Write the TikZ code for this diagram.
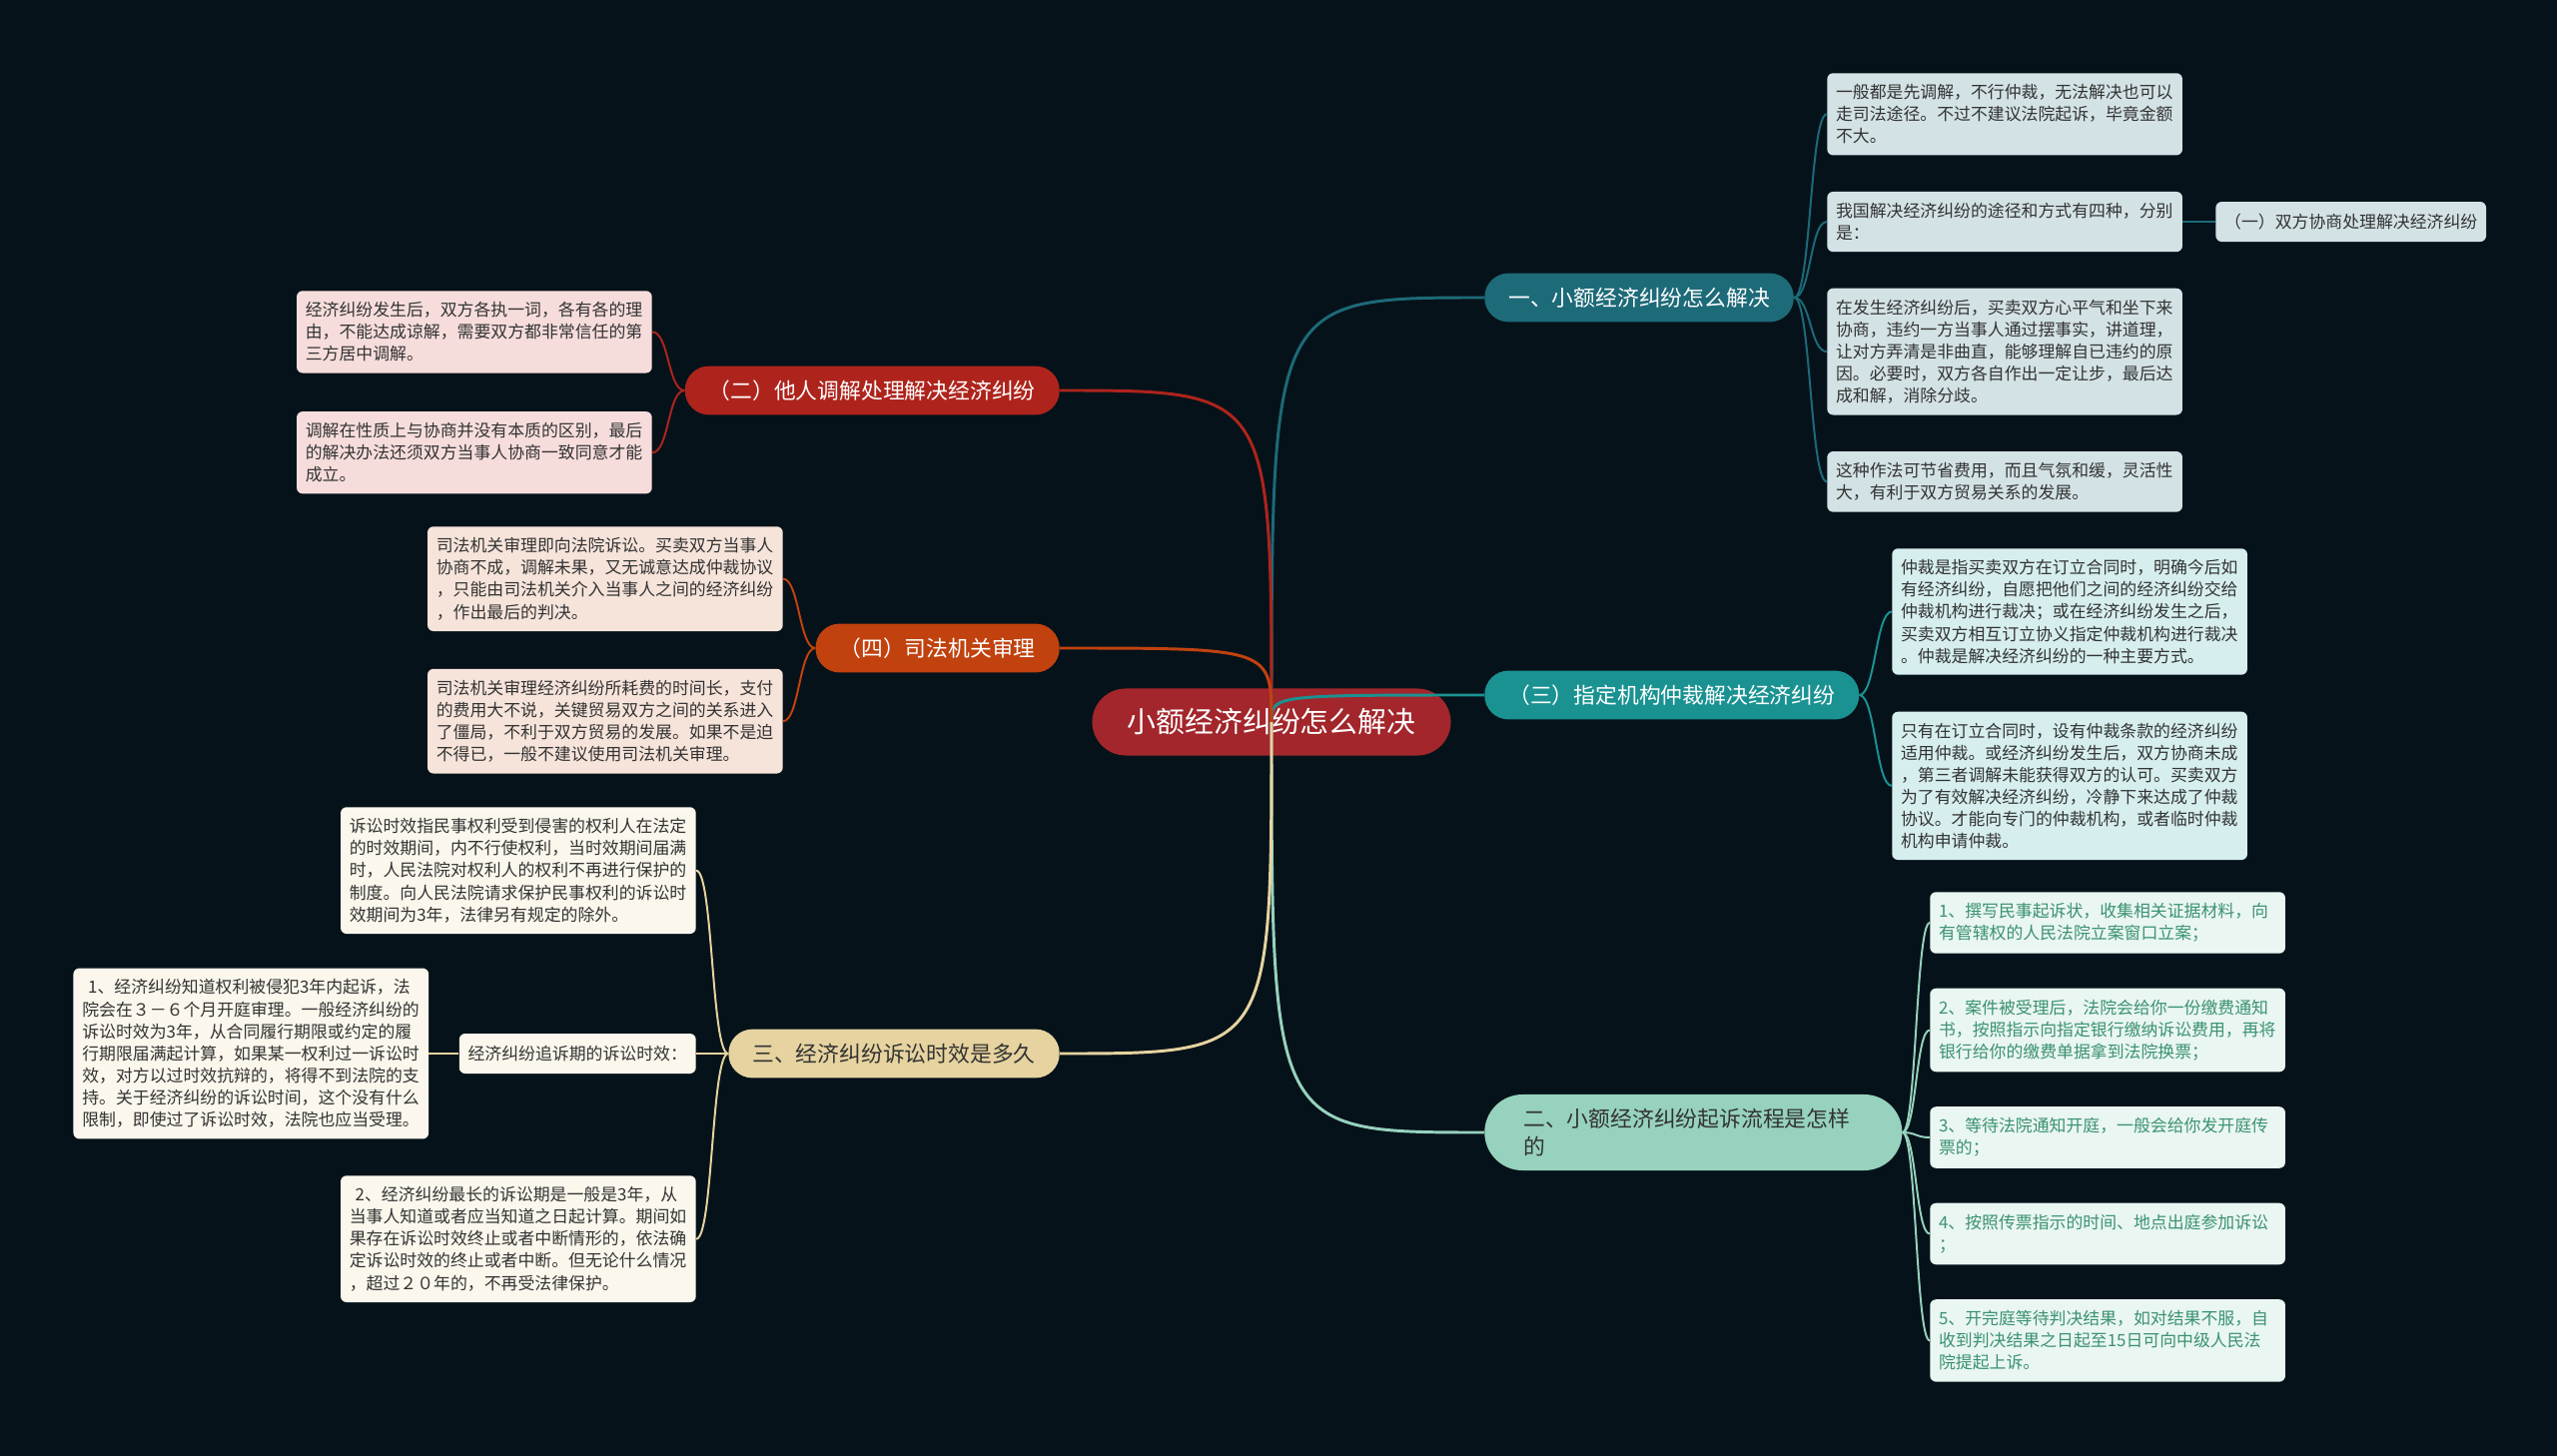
\documentclass[tikz,border=0pt]{standalone}
\usepackage{fontspec}
\setmainfont{Noto Sans CJK SC}
\usetikzlibrary{positioning}
\definecolor{mmbg}{HTML}{06121A}
\definecolor{mmroot}{HTML}{A2262B}
\definecolor{mmdeep}{HTML}{1D6A78}
\definecolor{mmteal}{HTML}{1A9292}
\definecolor{mmmint}{HTML}{96D2BD}
\definecolor{mmred}{HTML}{AE241C}
\definecolor{mmrust}{HTML}{C1420F}
\definecolor{mmsand}{HTML}{E6D39F}
\definecolor{mmink}{HTML}{333333}
\definecolor{mmgreen}{HTML}{3A9272}
\definecolor{fdeep}{HTML}{D3E2E5}
\definecolor{fteal}{HTML}{D6EEEE}
\definecolor{fmint}{HTML}{EAF6F1}
\definecolor{fred}{HTML}{F6DDDC}
\definecolor{frust}{HTML}{F6E4DA}
\definecolor{fsand}{HTML}{FBF7EC}
\newcommand\lffont{\fontsize{12pt}{15.7pt}\selectfont}
\newcommand\brfont{\fontsize{15.5pt}{20pt}\selectfont}
\newcommand\rtfont{\fontsize{20.5pt}{24pt}\selectfont}
\tikzset{
  branch/.style={rounded corners=0.6cm,minimum height=1.22cm,inner xsep=0.6cm,font=\brfont,text=white},
  leaf/.style={rounded corners=0.15cm,text width=8.45cm,inner xsep=0.22cm,inner ysep=0.28cm,align=left,font=\lffont,text=mmink},
  chip/.style={rounded corners=0.15cm,minimum height=1cm,inner xsep=0.22cm,font=\lffont,text=mmink},
  trunk/.style={line width=2.1pt},
  twig/.style={line width=1.4pt},
}
\begin{document}
\begin{tikzpicture}[x=0.025cm,y=-0.025cm]
  \fill[mmbg] (0,0) rectangle (2560,1458);
  \node[fill=mmroot,rounded corners=0.84cm,minimum width=8.975cm,minimum height=1.675cm,font=\rtfont,text=white] (root) at (1273,723) {小额经济纠纷怎么解决};
  % right side
  \node[branch,fill=mmdeep,anchor=west] (k1) at (1486,298) {一、小额经济纠纷怎么解决};
  \node[branch,fill=mmteal,anchor=west] (k2) at (1486,696) {（三）指定机构仲裁解决经济纠纷};
  \node[branch,fill=mmmint,text=mmink,anchor=west,align=left,text width=8.5cm,inner xsep=0.975cm,minimum height=1.9cm,rounded corners=0.95cm] (k3) at (1486,1134) {二、小额经济纠纷起诉流程是怎样\\的};
  % left side
  \node[branch,fill=mmred,anchor=east] (k4) at (1061,391) {（二）他人调解处理解决经济纠纷};
  \node[branch,fill=mmrust,anchor=east] (k5) at (1061,649) {（四）司法机关审理};
  \node[branch,fill=mmsand,text=mmink,anchor=east] (k6) at (1061,1055) {三、经济纠纷诉讼时效是多久};

  \node[leaf,fill=fdeep,anchor=north west] (k1a) at (1829,73) {一般都是先调解，不行仲裁，无法解决也可以\\走司法途径。不过不建议法院起诉，毕竟金额\\不大。};
  \node[leaf,fill=fdeep,below=0.9cm of k1a] (k1b) {我国解决经济纠纷的途径和方式有四种，分别\\是：};
  \node[leaf,fill=fdeep,below=0.9cm of k1b] (k1c) {在发生经济纠纷后，买卖双方心平气和坐下来\\协商，违约一方当事人通过摆事实，讲道理，\\让对方弄清是非曲直，能够理解自已违约的原\\因。必要时，双方各自作出一定让步，最后达\\成和解，消除分歧。};
  \node[leaf,fill=fdeep,below=0.9cm of k1c] (k1d) {这种作法可节省费用，而且气氛和缓，灵活性\\大，有利于双方贸易关系的发展。};
  \node[chip,fill=fdeep,right=0.82cm of k1b] (k1x) {（一）双方协商处理解决经济纠纷};

  \node[leaf,fill=fteal,anchor=north west] (k2a) at (1894,549) {仲裁是指买卖双方在订立合同时，明确今后如\\有经济纠纷，自愿把他们之间的经济纠纷交给\\仲裁机构进行裁决；或在经济纠纷发生之后，\\买卖双方相互订立协义指定仲裁机构进行裁决\\。仲裁是解决经济纠纷的一种主要方式。};
  \node[leaf,fill=fteal,below=0.91cm of k2a] (k2b) {只有在订立合同时，设有仲裁条款的经济纠纷\\适用仲裁。或经济纠纷发生后，双方协商未成\\，第三者调解未能获得双方的认可。买卖双方\\为了有效解决经济纠纷，冷静下来达成了仲裁\\协议。才能向专门的仲裁机构，或者临时仲裁\\机构申请仲裁。};

  \node[leaf,fill=fmint,text=mmgreen,anchor=north west] (k3a) at (1932,893) {1、撰写民事起诉状，收集相关证据材料，向\\有管辖权的人民法院立案窗口立案；};
  \node[leaf,fill=fmint,text=mmgreen,below=0.86cm of k3a] (k3b) {2、案件被受理后，法院会给你一份缴费通知\\书，按照指示向指定银行缴纳诉讼费用，再将\\银行给你的缴费单据拿到法院换票；};
  \node[leaf,fill=fmint,text=mmgreen,below=0.86cm of k3b] (k3c) {3、等待法院通知开庭，一般会给你发开庭传\\票的；};
  \node[leaf,fill=fmint,text=mmgreen,below=0.86cm of k3c] (k3d) {4、按照传票指示的时间、地点出庭参加诉讼\\；};
  \node[leaf,fill=fmint,text=mmgreen,below=0.86cm of k3d] (k3e) {5、开完庭等待判决结果，如对结果不服，自\\收到判决结果之日起至15日可向中级人民法\\院提起上诉。};

  \node[leaf,fill=fred,anchor=north east] (k4a) at (653,291) {经济纠纷发生后，双方各执一词，各有各的理\\由，不能达成谅解，需要双方都非常信任的第\\三方居中调解。};
  \node[leaf,fill=fred,below=0.95cm of k4a] (k4b) {调解在性质上与协商并没有本质的区别，最后\\的解决办法还须双方当事人协商一致同意才能\\成立。};

  \node[leaf,fill=frust,anchor=north east] (k5a) at (784,527) {司法机关审理即向法院诉讼。买卖双方当事人\\协商不成，调解未果，又无诚意达成仲裁协议\\，只能由司法机关介入当事人之间的经济纠纷\\，作出最后的判决。};
  \node[leaf,fill=frust,below=0.93cm of k5a] (k5b) {司法机关审理经济纠纷所耗费的时间长，支付\\的费用大不说，关键贸易双方之间的关系进入\\了僵局，不利于双方贸易的发展。如果不是迫\\不得已，一般不建议使用司法机关审理。};

  \node[leaf,fill=fsand,anchor=north east] (k6a) at (697,808) {诉讼时效指民事权利受到侵害的权利人在法定\\的时效期间，内不行使权利，当时效期间届满\\时，人民法院对权利人的权利不再进行保护的\\制度。向人民法院请求保护民事权利的诉讼时\\效期间为3年，法律另有规定的除外。};
  \node[chip,fill=fsand,anchor=east] (k6b) at (697,1055) {经济纠纷追诉期的诉讼时效：};
  \node[leaf,fill=fsand,left=0.75cm of k6b] (k6x) {\hspace{0.35em}1、经济纠纷知道权利被侵犯3年内起诉，法\\院会在３－６个月开庭审理。一般经济纠纷的\\诉讼时效为3年，从合同履行期限或约定的履\\行期限届满起计算，如果某一权利过一诉讼时\\效，对方以过时效抗辩的，将得不到法院的支\\持。关于经济纠纷的诉讼时间，这个没有什么\\限制，即使过了诉讼时效，法院也应当受理。};
  \node[leaf,fill=fsand,anchor=north east] (k6c) at (697,1177) {\hspace{0.35em}2、经济纠纷最长的诉讼期是一般是3年，从\\当事人知道或者应当知道之日起计算。期间如\\果存在诉讼时效终止或者中断情形的，依法确\\定诉讼时效的终止或者中断。但无论什么情况\\，超过２０年的，不再受法律保护。};

  % connectors
  \foreach \k/\c/\s in {k1/mmdeep/west,k2/mmteal/west,k3/mmmint/west,k4/mmred/east,k5/mmrust/east,k6/mmsand/east}
    \draw[trunk,\c] (root.center) .. controls (root.center |- \k.\s) .. (\k.\s);
  \foreach \l in {k1a,k1b,k1c,k1d}
    \draw[twig,mmdeep] (k1.east) .. controls +(17,0) and +(-17,0) .. (\l.west);
  \draw[twig,mmdeep] (k1b) -- (k1x);
  \foreach \l in {k2a,k2b}
    \draw[twig,mmteal] (k2.east) .. controls +(16,0) and +(-16,0) .. (\l.west);
  \foreach \l in {k3a,k3b,k3c,k3d,k3e}
    \draw[twig,mmmint] (k3.east) .. controls +(14,0) and +(-14,0) .. (\l.west);
  \foreach \l in {k4a,k4b}
    \draw[twig,mmred] (k4.west) .. controls +(-17,0) and +(17,0) .. (\l.east);
  \foreach \l in {k5a,k5b}
    \draw[twig,mmrust] (k5.west) .. controls +(-16,0) and +(16,0) .. (\l.east);
  \foreach \l in {k6a,k6b,k6c}
    \draw[twig,mmsand] (k6.west) .. controls +(-17,0) and +(17,0) .. (\l.east);
  \draw[twig,mmsand] (k6b) -- (k6x);
\end{tikzpicture}
\end{document}
